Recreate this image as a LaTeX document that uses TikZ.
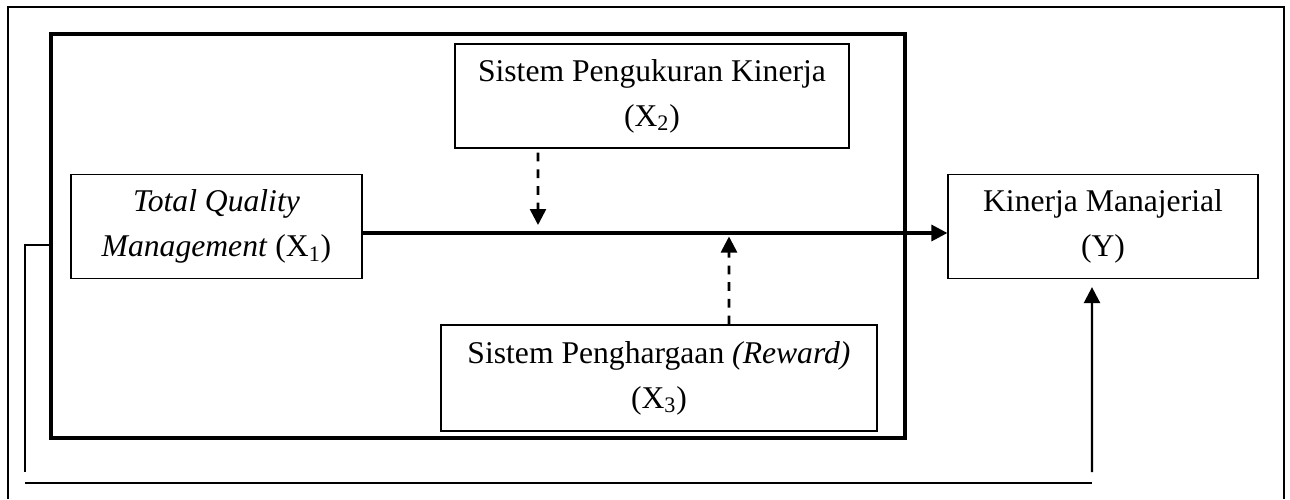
\documentclass[tikz,border=0pt]{standalone}
\usepackage{fontspec}
\setmainfont{Liberation Serif}
\usetikzlibrary{arrows.meta}

\begin{document}
\begin{tikzpicture}[font=\fontsize{18}{25.6}\selectfont,
    box/.style={draw,line width=0.7pt,align=center,minimum height=2.08cm,inner sep=0pt},
    tip/.style={-{Triangle[width=0.32cm,length=0.32cm]}},
    moderate/.style={tip,line width=1.5pt,dash pattern=on 5pt off 4.5pt}]
      \useasboundingbox (0,0) rectangle (25.8,9.98);

      % page frame and model frame
      \draw[line width=1.5pt] (0.16,0) -- (0.16,9.84) -- (25.68,9.84) -- (25.68,0);
      \node (model) at (9.56,5.26) [draw,line width=1.9pt,minimum width=17.08cm,minimum height=8.08cm,inner sep=0pt] {};

      \node (tqm) at (4.33,5.45) [box,minimum width=5.82cm] {\textit{Total Quality}\\\textit{Management} (X\textsubscript{1})};
      \node (spk) at (13.04,8.06) [box,minimum width=7.88cm] {Sistem Pengukuran Kinerja\\(X\textsubscript{2})};
      \node (reward) at (13.18,2.42) [box,minimum width=8.72cm,minimum height=2.12cm] {Sistem Penghargaan \textit{(Reward)}\\(X\textsubscript{3})};
      \node (kinerja) at (22.06,5.45) [box,minimum width=6.2cm] {Kinerja Manajerial\\(Y)};

      \coordinate (onx2) at (10.76,5.48);
      \coordinate (onx3) at (14.58,5.25);
      \coordinate (bl) at (0.5,5.08);
      \coordinate (bl2) at (0.5,0.54);
      \coordinate (hl) at (0.5,0.32);
      \coordinate (hr) at (21.84,0.32);
      \coordinate (br) at (21.84,0.54);

      \draw[tip,line width=1.9pt] ([yshift=-0.13cm]tqm.east) -- ([yshift=-0.13cm]kinerja.west);
      \draw[moderate] ([xshift=-2.28cm,yshift=-0.08cm]spk.south) -- (onx2);
      \draw[moderate] ([xshift=1.4cm]reward.north) -- (onx3);

      % line along the bottom
      \draw[line width=0.7pt] (model.west |- bl) -- (bl) -- (bl2);
      \draw[line width=0.7pt] (hl) -- (hr);
      \draw[tip,line width=1.4pt] (br) -- ([xshift=-0.22cm,yshift=-0.16cm]kinerja.south);
\end{tikzpicture}
\end{document}
